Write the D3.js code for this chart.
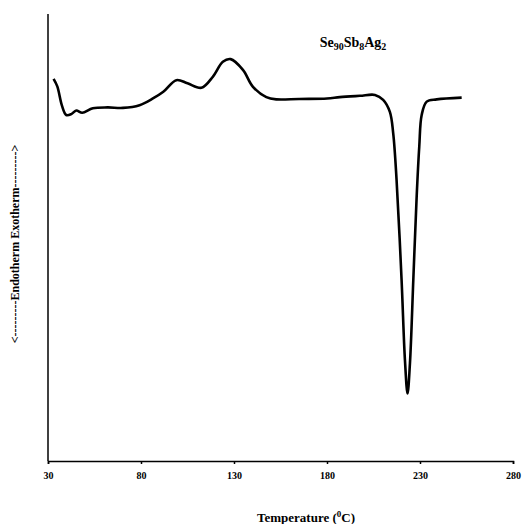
<!DOCTYPE html>
<html>
<head>
<meta charset="utf-8">
<script src="https://cdn.jsdelivr.net/npm/d3@7"></script>
<style>
  body { margin: 0; background: #fff; }
  text { font-family: "Liberation Serif", "Times New Roman", serif; font-weight: bold; }
</style>
</head>
<body>
<svg id="chart"></svg>
<script>
// DSC trace, temperature in degC, heat flow in arbitrary units
const temperature = [33.0, 35.0, 37.5, 39.8, 42.5, 45.2, 48.4, 54.1, 62.0, 70.3, 79.2, 86.4, 92.0, 99.0, 105.0,
  112.5, 118.7, 124.0, 128.2, 134.8, 140.2, 147.4, 152.8, 165.0, 180.0, 186.9, 197.7, 205.8, 210.2,
  213.8, 215.6, 217.4, 220.1, 221.9, 223.3, 224.6, 226.4, 228.2, 229.6, 230.9, 233.6, 239.0, 252.4];
const heatFlow = [85.5, 83.8, 79.5, 77.4, 77.6, 78.4, 77.9, 78.9, 79.1, 79.0, 79.6, 81.1, 82.6, 85.2, 84.5,
  83.5, 86.0, 89.3, 89.9, 87.5, 83.7, 81.4, 80.9, 81.0, 81.1, 81.4, 81.7, 81.9, 80.8,
  78.1, 73.3, 62.9, 40.5, 22.6, 15.1, 21.9, 40.5, 59.1, 70.3, 77.4, 80.4, 80.9, 81.3];
const xTicks = [30, 80, 130, 180, 230, 280];

const width = 524, height = 524;
const margin = {top: 14, right: 11, bottom: 63, left: 48};
const innerW = width - margin.left - margin.right;
const innerH = height - margin.top - margin.bottom;

const svg = d3.select('#chart').attr('width', width).attr('height', height);
const chart = svg.append('g').attr('transform', `translate(${margin.left}, ${margin.top})`);

const xscale = d3.scaleLinear().domain([30, 280]).range([0, innerW]);
const yscale = d3.scaleLinear().domain([0, 100]).range([innerH, 0]);

const xaxis = d3.axisBottom(xscale).tickValues(xTicks).tickSize(3).tickSizeOuter(3).tickPadding(8);
const xg = chart.append('g')
  .attr('transform', `translate(0, ${innerH})`)
  .call(xaxis);
xg.select('.domain').attr('stroke-width', 1.5);
xg.selectAll('.tick line').attr('stroke-width', 1.5);
xg.selectAll('.tick text')
  .style('font-family', '"Liberation Serif", serif')
  .style('font-weight', 'bold')
  .style('font-size', '10px');

chart.append('line')
  .attr('x1', 0).attr('x2', 0)
  .attr('y1', 0).attr('y2', innerH)
  .attr('stroke', '#000').attr('stroke-width', 1.5);

const line = d3.line()
  .x((d, i) => xscale(temperature[i]))
  .y(d => yscale(d))
  .curve(d3.curveCatmullRom.alpha(0.5));

chart.append('path')
  .attr('d', line(heatFlow))
  .attr('fill', 'none')
  .attr('stroke', '#000')
  .attr('stroke-width', 2.6)
  .attr('stroke-linejoin', 'round');

// sample label
const title = svg.append('text')
  .attr('x', 353).attr('y', 47)
  .attr('text-anchor', 'middle')
  .style('font-size', '14px');
[['Se', false], ['90', true], ['Sb', false], ['8', true], ['Ag', false], ['2', true]].forEach(p => {
  title.append('tspan')
    .attr('baseline-shift', p[1] ? '-25%' : null)
    .style('font-size', p[1] ? '10px' : '14px')
    .text(p[0]);
});

// axis titles
const xlab = svg.append('text')
  .attr('x', 306).attr('y', 522)
  .attr('text-anchor', 'middle')
  .style('font-size', '13px');
xlab.append('tspan').text('Temperature (');
xlab.append('tspan').attr('baseline-shift', 'super').style('font-size', '9px').text('0');
xlab.append('tspan').text('C)');

svg.append('text')
  .attr('transform', 'translate(19, 244) rotate(-90)')
  .attr('text-anchor', 'middle')
  .style('font-size', '12px')
  .text('<---------Endotherm  Exotherm--------->');
</script>
</body>
</html>
